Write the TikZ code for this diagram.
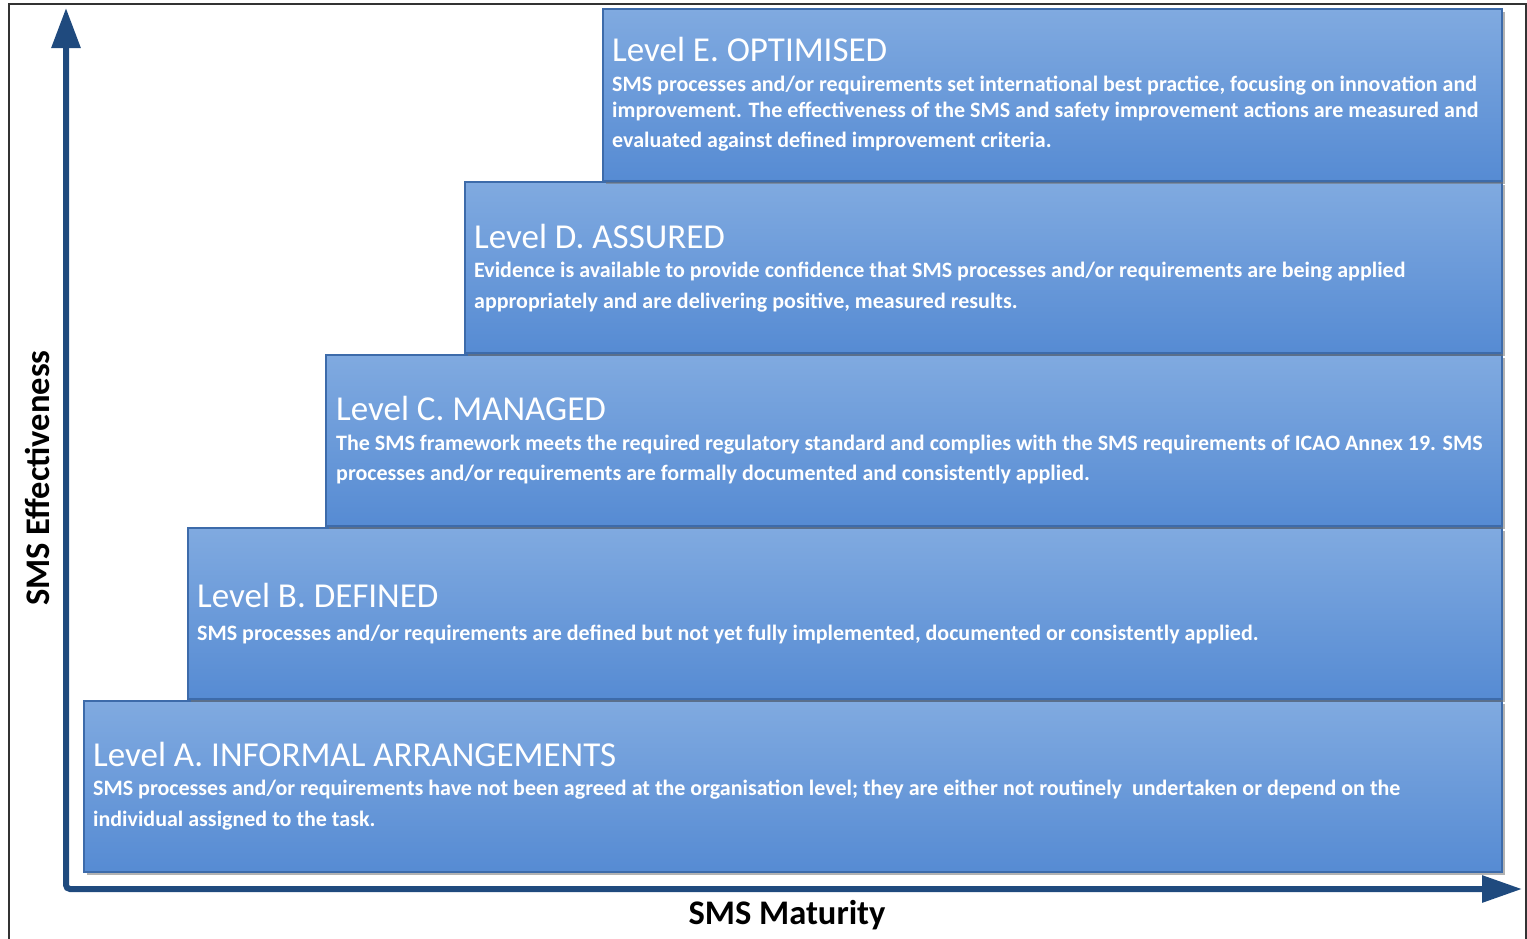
\documentclass[tikz,border=0pt]{standalone}
\usepackage{fontspec}
\setmainfont{Carlito}
\usetikzlibrary{arrows.meta,shadows}
\definecolor{axisblue}{HTML}{1F4A7E}
\definecolor{boxtop}{HTML}{80AAE0}
\definecolor{boxbot}{HTML}{568BD3}
\definecolor{boxedge}{HTML}{3D6BAA}
\definecolor{framegray}{HTML}{333333}
\begin{document}
\begin{tikzpicture}[x=1pt,y=-1pt,
  level/.style={draw=boxedge, line width=1.2pt, top color=boxtop, bottom color=boxbot,
    anchor=north west, inner sep=0pt, outer sep=0pt,
    drop shadow={shadow xshift=3pt, shadow yshift=-3pt, fill=black!55, opacity=0.55}},
  ttl/.style={anchor=base west, inner sep=0pt, text=white, font=\fontsize{35}{40}\selectfont},
  body/.style={anchor=base west, inner sep=0pt, text=white, font=\bfseries\fontsize{22}{26}\selectfont},
  axislbl/.style={font=\bfseries\fontsize{34.5}{40}\selectfont, text=black, inner sep=0pt},
  axisline/.style={draw=axisblue, line width=6pt, rounded corners=4pt}]
\useasboundingbox (0,0) rectangle (1527,938);
% frame
\coordinate (fbl) at (9,940);
\coordinate (ftl) at (9,4);
\coordinate (ftr) at (1526,4);
\coordinate (fbr) at (1526,940);
\draw[framegray, line width=2pt] (fbl) -- (ftl) -- (ftr) -- (fbr);
% boxes
\node[level, minimum width=1418pt, minimum height=171pt] (A) at (84,701) {};
\node[level, minimum width=1314pt, minimum height=171pt] (B) at (188,528) {};
\node[level, minimum width=1176pt, minimum height=171pt] (C) at (326,355) {};
\node[level, minimum width=1037pt, minimum height=171pt] (D) at (465,182) {};
\node[level, minimum width=899pt, minimum height=172pt] (E) at (603,9) {};
% texts E
\node[ttl] (Et) at (612,61) {Level E. OPTIMISED};
\node[body] (E1) at (612,91) {SMS processes and/or requirements set international best practice, focusing on innovation and};
\node[body] (E2) at (612,117) {improvement. The effectiveness of the SMS and safety improvement actions are measured and};
\node[body] (E3) at (612,147) {evaluated against defined improvement criteria.};
% texts D
\node[ttl] (Dt) at (474,248) {Level D. ASSURED};
\node[body] (D1) at (474,277) {Evidence is available to provide confidence that SMS processes and/or requirements are being applied};
\node[body] (D2) at (474,308) {appropriately and are delivering positive, measured results.};
% texts C
\node[ttl] (Ct) at (336,420) {Level C. MANAGED};
\node[body] (C1) at (336,450) {The SMS framework meets the required regulatory standard and complies with the SMS requirements of ICAO Annex 19. SMS};
\node[body] (C2) at (336,480) {processes and/or requirements are formally documented and consistently applied.};
% texts B
\node[ttl] (Bt) at (197,607) {Level B. DEFINED};
\node[body] (B1) at (197,640) {SMS processes and/or requirements are defined but not yet fully implemented, documented or consistently applied.};
% texts A
\node[ttl] (At) at (93,766) {Level A. INFORMAL ARRANGEMENTS};
\node[body] (A1) at (93,795) {SMS processes and/or requirements have not been agreed at the organisation level; they are either not routinely\ \ undertaken or depend on the};
\node[body] (A2) at (93,826) {individual assigned to the task.};
% axes
\coordinate (ytip) at (66,8);
\coordinate (origin) at (66,889);
\coordinate (xtip) at (1522,889);
\draw[axisline, {Triangle[length=40pt,width=28pt]}-{Triangle[length=40pt,width=26pt]}] (ytip) -- (origin) -- (xtip);
\node[axislbl, rotate=90] (ylab) at (37,478) {SMS Effectiveness};
\node[axislbl] (xlab) at (787,915) {SMS Maturity};
\end{tikzpicture}
\end{document}
